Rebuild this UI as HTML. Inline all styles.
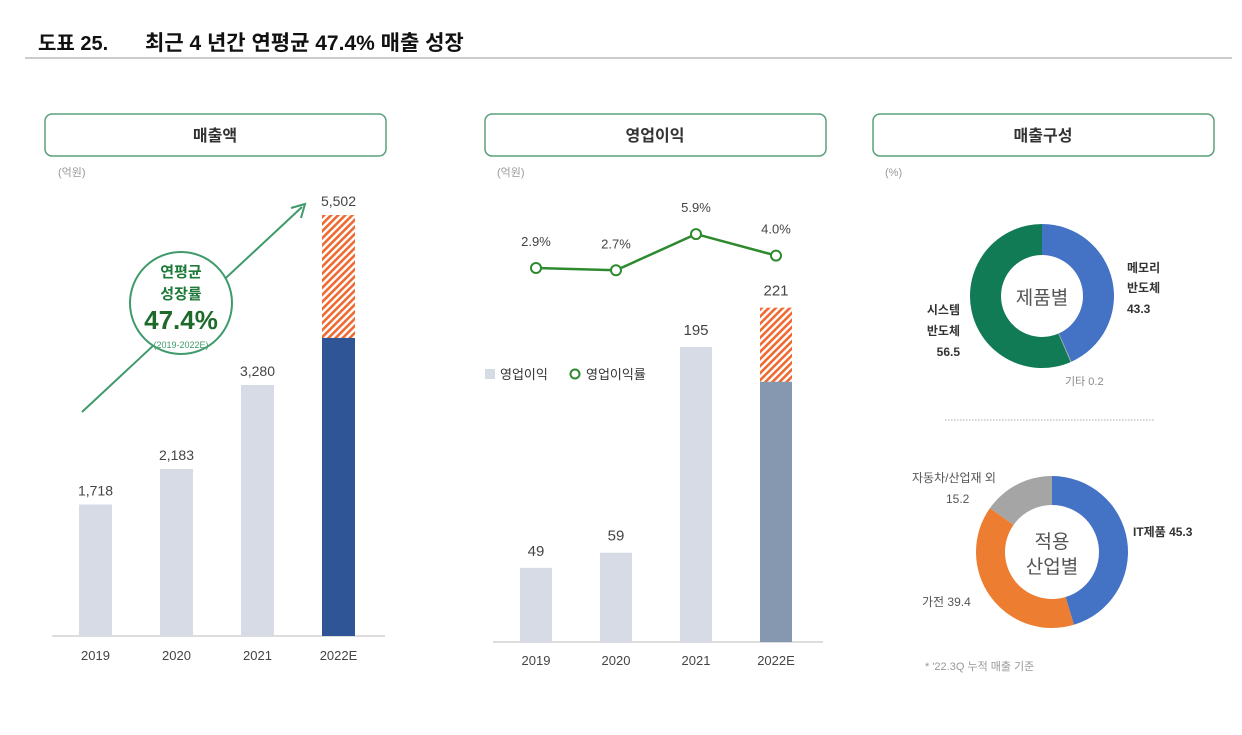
<!DOCTYPE html>
<html><head><meta charset="utf-8"><style>
body{margin:0;width:1242px;height:730px;background:#fff;overflow:hidden;font-family:"Liberation Sans","Noto Sans CJK KR",sans-serif}
svg text{font-family:"Liberation Sans","Noto Sans CJK KR",sans-serif}
</style></head><body>
<svg id="s" width="1242" height="730" xmlns="http://www.w3.org/2000/svg">
<defs><pattern id="hatch" patternUnits="userSpaceOnUse" width="5" height="5" patternTransform="rotate(45)"><rect width="5" height="5" fill="#fff"/><rect width="2.6" height="5" fill="#ee6a32"/></pattern></defs>
<text x="38" y="50" font-size="20" font-weight="bold" fill="#111">도표 25.</text>
<text x="145" y="50" font-size="21" font-weight="bold" fill="#111">최근 4 년간 연평균 47.4% 매출 성장</text>
<line x1="25" y1="58" x2="1232" y2="58" stroke="#999" stroke-width="1"/>
<g>
<rect x="45" y="114" width="341" height="42" rx="7" fill="#fff" stroke="#5aa07a" stroke-width="1.5"/>
<text x="215" y="141" font-size="16" font-weight="bold" text-anchor="middle" fill="#333">매출액</text>
<rect x="485" y="114" width="341" height="42" rx="7" fill="#fff" stroke="#5aa07a" stroke-width="1.5"/>
<text x="655" y="141" font-size="16" font-weight="bold" text-anchor="middle" fill="#333">영업이익</text>
<rect x="873" y="114" width="341" height="42" rx="7" fill="#fff" stroke="#5aa07a" stroke-width="1.5"/>
<text x="1043" y="141" font-size="16" font-weight="bold" text-anchor="middle" fill="#333">매출구성</text>
</g>
<text x="58" y="176" font-size="11" fill="#999">(억원)</text>
<text x="497" y="176" font-size="11" fill="#999">(억원)</text>
<text x="885" y="176" font-size="11" fill="#999">(%)</text>
<g id="c1"></g><g id="c2"></g><g id="d1"></g><g id="d2"></g>
<g>
<line x1="82" y1="412" x2="302" y2="207" stroke="#3f9a6b" stroke-width="2"/>
<polyline points="291,208 305,204 301,218" fill="none" stroke="#3f9a6b" stroke-width="2"/>
<circle cx="181" cy="303" r="51" fill="#fff" stroke="#3f9a6b" stroke-width="2"/>
<text x="181" y="277" font-size="15" font-weight="bold" text-anchor="middle" fill="#1e7a3a">연평균</text>
<text x="181" y="299" font-size="15" font-weight="bold" text-anchor="middle" fill="#1e7a3a">성장률</text>
<text x="181" y="329" font-size="26" font-weight="bold" text-anchor="middle" fill="#1e6a2a">47.4%</text>
<text x="181" y="348" font-size="9" text-anchor="middle" fill="#3f9a6b">(2019-2022E)</text>
</g>
<g>
<rect x="485" y="369" width="10" height="10" fill="#d6dbe5"/>
<text x="500" y="379" font-size="13" fill="#333">영업이익</text>
<circle cx="575" cy="374" r="4.5" fill="#fff" stroke="#2e8a2e" stroke-width="2"/>
<text x="586" y="379" font-size="13" fill="#333">영업이익률</text>
</g>
<line x1="945" y1="420" x2="1155" y2="420" stroke="#aaa" stroke-dasharray="1.5,1.5"/>
<text x="925" y="670" font-size="11" fill="#999">* '22.3Q 누적 매출 기준</text>
</svg>
<script>
const NS='http://www.w3.org/2000/svg';
const years=['2019','2020','2021','2022E'];
const revenue=[1718,2183,3280,5502];
const revenueActual=[1718,2183,3280,3895];
const opProfit=[49,59,195,221];
const opProfitActual=[49,59,195,172];
const opMargin=[2.9,2.7,5.9,4.0];
const marginLabels=['2.9%','2.7%','5.9%','4.0%'];
const productLabels=['메모리 반도체','기타','시스템 반도체'];
const productShare=[43.3,0.2,56.5];
const industryLabels=['IT제품','가전','자동차/산업재 외'];
const industryShare=[45.3,39.4,15.2];
function el(t,a,p){const e=document.createElementNS(NS,t);for(const k in a)e.setAttribute(k,a[k]);p.appendChild(e);return e;}
function txt(x,y,s,size,fill,p,anchor,weight){const t=el('text',{x:x,y:y,'font-size':size,fill:fill,'text-anchor':anchor||'middle','font-weight':weight||'normal'},p);t.textContent=s;return t;}
const c1=document.getElementById('c1');


const b1=636,y1=v=>b1-v*(421/5502),x1=i=>79+i*81;
el('line',{x1:52,y1:b1,x2:385,y2:b1,stroke:'#bbb'},c1);
years.forEach((y,i)=>{
 const last=i===3;
 const r=el('rect',{x:x1(i),y:y1(revenue[i]),width:33,height:b1-y1(revenue[i]),fill:last?'url(#hatch)':'#d6dbe5'},c1);
 
 
 if(last){const s=el('rect',{x:x1(i),y:y1(revenueActual[i]),width:33,height:b1-y1(revenueActual[i]),fill:'#2f5597'},c1);
  
  }
 txt(x1(i)+16.5,y1(revenue[i])-9,revenue[i].toLocaleString('en-US'),14,'#444',c1);
 txt(x1(i)+16.5,660,y,13,'#444',c1);
});
const c2=document.getElementById('c2');


const b2=642,y2=v=>b2-v*(295/195),x2=i=>520+i*80;
el('line',{x1:493,y1:b2,x2:823,y2:b2,stroke:'#bbb'},c2);
years.forEach((y,i)=>{
 const last=i===3;
 const r=el('rect',{x:x2(i),y:y2(opProfit[i]),width:32,height:b2-y2(opProfit[i]),fill:last?'url(#hatch)':'#d6dbe5'},c2);
 
 
 if(last){const s=el('rect',{x:x2(i),y:y2(opProfitActual[i]),width:32,height:b2-y2(opProfitActual[i]),fill:'#8598b0'},c2);
  
  }
 txt(x2(i)+16,y2(opProfit[i])-12,String(opProfit[i]),15,'#444',c2);
 txt(x2(i)+16,665,y,13,'#444',c2);
});
const ym=v=>268+(2.9-v)*11.3;
const pl=el('polyline',{points:opMargin.map((v,i)=>(x2(i)+16)+','+ym(v)).join(' '),fill:'none',stroke:'#2e8a2e','stroke-width':2.5},c2);


opMargin.forEach((v,i)=>{
 const c=el('circle',{cx:x2(i)+16,cy:ym(v),r:5,fill:'#fff',stroke:'#2e8a2e','stroke-width':2},c2);
 
 
 txt(x2(i)+16,ym(v)-22,marginLabels[i],13,'#444',c2);
});
function donut(g,cx,cy,R,r,vals,cols,names){
 let a=0;const tot=vals.reduce((s,v)=>s+v,0);
 vals.forEach((v,i)=>{
  const a0=a/tot*2*Math.PI,a1=(a+v)/tot*2*Math.PI;a+=v;
  const P=(rr,t)=>(cx+rr*Math.sin(t))+','+(cy-rr*Math.cos(t));
  const lg=(a1-a0)>Math.PI?1:0;
  const p=el('path',{d:`M${P(R,a0)}A${R},${R} 0 ${lg} 1 ${P(R,a1)}L${P(r,a1)}A${r},${r} 0 ${lg} 0 ${P(r,a0)}Z`,fill:cols[i]},g);
  
  
 });
}
const d1=document.getElementById('d1');


donut(d1,1042,296,72,41,productShare,['#4472c4','#a5a5a5','#107b55'],['slice-memory','slice-other','slice-system']);
txt(1042,304,'제품별',19,'#555',d1);
txt(1127,272,'메모리',12,'#333',d1,'start','bold');txt(1127,292,'반도체',12,'#333',d1,'start','bold');txt(1127,313,productShare[0].toFixed(1),12,'#333',d1,'start','bold');
txt(960,314,'시스템',12,'#333',d1,'end','bold');txt(960,335,'반도체',12,'#333',d1,'end','bold');txt(960,356,productShare[2].toFixed(1),12,'#333',d1,'end','bold');
txt(1065,385,productLabels[1]+' '+productShare[1],11,'#888',d1,'start');
const d2=document.getElementById('d2');


donut(d2,1052,552,76,47,industryShare,['#4472c4','#ed7d31','#a5a5a5'],['slice-it','slice-appliance','slice-auto']);
txt(1052,548,'적용',19,'#555',d2);txt(1052,573,'산업별',19,'#555',d2);
txt(1133,536,industryLabels[0]+' '+industryShare[0],12,'#333',d2,'start','bold');
txt(922,606,industryLabels[1]+' '+industryShare[1],12,'#555',d2,'start');
txt(912,482,industryLabels[2],12,'#555',d2,'start');
txt(946,503,industryShare[2].toFixed(1),12,'#555',d2,'start');
</script>
</body></html>
